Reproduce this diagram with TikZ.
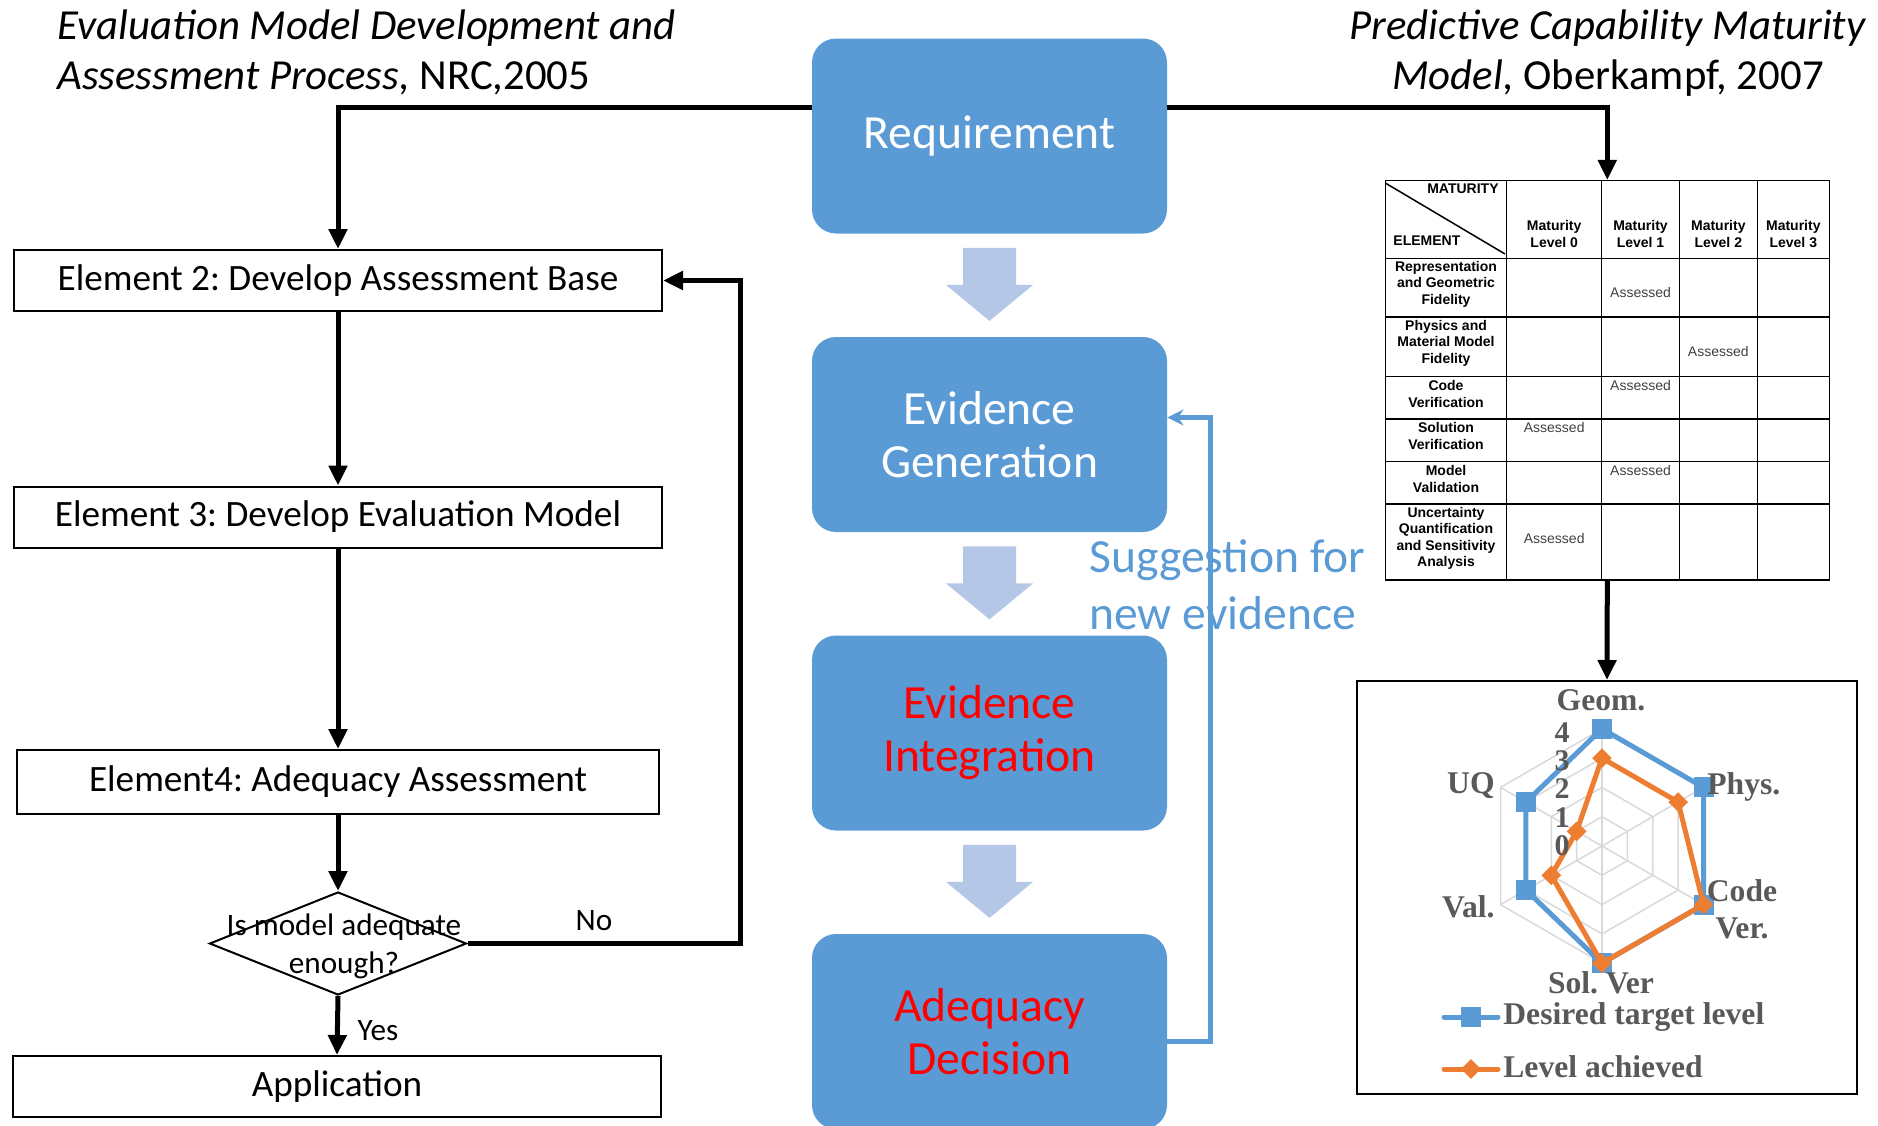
\documentclass[tikz,border=0pt]{standalone}
\usepackage{fontspec}
\setmainfont{Carlito}
\newfontfamily\arialf{Liberation Sans}
\newfontfamily\timesf{Liberation Serif}
\usetikzlibrary{arrows.meta,shapes.geometric,calc}
\frenchspacing

\definecolor{boxblue}{HTML}{5B9BD5}
\definecolor{arrowblue}{HTML}{B4C7E7}
\definecolor{chartorange}{HTML}{ED7D31}
\definecolor{chartgray}{HTML}{595959}
\definecolor{gridgray}{HTML}{D9D9D9}
\definecolor{txtred}{HTML}{FF0000}

\begin{document}
\begin{tikzpicture}[x=0.5pt,y=-0.5pt,
  stage/.style={fill=boxblue, rounded corners=12pt, minimum width=177.5pt,
    minimum height=97.5pt, align=center, inner sep=0pt,
    font=\fontsize{23.8}{26.5}\selectfont},
  elem/.style={draw, line width=1pt, minimum width=324pt, minimum height=30.5pt,
    inner sep=0pt, font=\fontsize{18.6}{21}\selectfont},
  flow/.style={line width=2.5pt, -{Triangle[length=10pt,width=9pt]}},
  fb/.style={draw=boxblue, line width=2.4pt, -{Stealth[length=8pt,width=8pt]}},
  lbl/.style={font=\fontsize{15.6}{19}\selectfont, inner sep=0pt},
  tb/.style={font=\arialf\bfseries\fontsize{7}{8.3}\selectfont, align=center, inner sep=0pt},
  ta/.style={font=\arialf\fontsize{7}{8.3}\selectfont, text=black!75, inner sep=0pt},
  chartlbl/.style={font=\timesf\bfseries\fontsize{15.8}{18.5}\selectfont, text=chartgray,
    inner sep=0pt, align=center},
  sqmark/.style={fill=boxblue, minimum size=10pt, inner sep=0pt},
  dmmark/.style={diamond, fill=chartorange, minimum size=10pt, inner sep=0pt},
  down block/.pic={\fill[arrowblue] (-26.5,0) -- (26.5,0) -- (26.5,37) -- (43.5,37)
    -- (0,73) -- (-43.5,37) -- (-26.5,37) -- cycle;}
]
\clip (0,0) rectangle (1878,1125);

% ---------- titles ----------
\node[anchor=west, align=left, inner sep=0pt, font=\fontsize{21.4}{25}\selectfont] (ttlL) at (57,52)
  {\textit{Evaluation Model Development and}\\\textit{Assessment Process,} NRC,2005};
\node[align=center, inner sep=0pt, font=\fontsize{21.4}{25}\selectfont] (ttlR) at (1608,53)
  {\textit{Predictive Capability Maturity}\\\textit{Model,} Oberkampf, 2007};

% ---------- central process ----------
\node[stage, text=white] (req) at (989.5,136) {Requirement};
\node[stage, text=white] (eg) at (989.5,434.5) {Evidence\\Generation};
\node[stage, text=txtred] (ei) at (989.5,733) {Evidence\\Integration};
\node[stage, text=txtred] (ad) at (989.5,1031.5) {Adequacy\\Decision};
\pic at ($(req.south)+(0,14)$) {down block};
\pic at ($(eg.south)+(0,14)$) {down block};
\pic at ($(ei.south)+(0,14)$) {down block};

\node[anchor=west, align=left, inner sep=0pt, text=boxblue,
  font=\fontsize{23.8}{28.5}\selectfont] (sugg) at (1089,585) {Suggestion for\\new evidence};
\draw[fb] ($(ad.east)+(0,10)$) -- ++(43,0) |- ($(eg.east)+(0,-17)$);

% ---------- left flowchart ----------
\node[elem] (e2) at (338,280.5) {Element 2: Develop Assessment Base};
\node[elem] (e3) at (338,517) {Element 3: Develop Evaluation Model};
\node[elem, minimum width=321pt, minimum height=32pt] (e4) at (338,782) {Element4: Adequacy Assessment};
\node[diamond, draw, line width=1pt, minimum width=128.5pt, minimum height=51.5pt,
  inner sep=0pt] (dec) at (338,943.5) {};
\node[lbl, align=center] (dectxt) at (344,946) {Is model adequate\\enough?};
\node[elem] (app) at (337,1086.5) {Application};

\draw[flow] ($(req.west)+(0,-29)$) -| (e2.north);
\draw[flow] (e2.south) -- (e3.north);
\draw[flow] (e3.south) -- (e4.north);
\draw[flow] (e4.south) -- (dec.north);
\draw[flow] (dec.south) -- (app.north);
\draw[flow] (dec.east) -- ++(272.5,0) |- (e2.east);
\node[lbl] (yes) at (378,1031) {Yes};
\node[lbl] (no) at (594,921) {No};

% ---------- maturity table ----------
\node[draw, line width=0.75pt, minimum width=222pt, minimum height=199.65pt, inner sep=0pt]
  (tbl) at (1607.3,380.35) {};
\begin{scope}[line width=0.75pt]
  \foreach \cx in {1506.7,1601.7,1679.3,1757.3} \draw (\cx,180.7) -- (\cx,580);
  \foreach \ry in {258.3,317,376.7,419,461.7,504} \draw (1385.3,\ry) -- (1829.3,\ry);
  \draw (1385.3,183) -- (1505,254);
\end{scope}
\node[tb, anchor=east] (hmat) at (1499,189) {MATURITY};
\node[tb, anchor=west] (hel) at (1393,241) {ELEMENT};
\node[tb] (h0) at (1554.2,234) {Maturity\\Level 0};
\node[tb] (h1) at (1640.5,234) {Maturity\\Level 1};
\node[tb] (h2) at (1718.3,234) {Maturity\\Level 2};
\node[tb] (h3) at (1793.3,234) {Maturity\\Level 3};
\node[tb] (rw1) at (1446,284) {Representation\\and Geometric\\Fidelity};
\node[tb] (rw2) at (1446,343.3) {Physics and\\Material Model\\Fidelity};
\node[tb] (rw3) at (1446,393.7) {Code\\Verification};
\node[tb] (rw4) at (1446,436) {Solution\\Verification};
\node[tb] (rw5) at (1446,478.7) {Model\\Validation};
\node[tb] (rw6) at (1446,538.3) {Uncertainty\\Quantification\\and Sensitivity\\Analysis};
\node[ta] (as1) at (1640.5,292) {Assessed};
\node[ta] (as2) at (1718.3,351.7) {Assessed};
\node[ta] (as3) at (1640.5,385.7) {Assessed};
\node[ta] (as4) at (1554.2,427.7) {Assessed};
\node[ta] (as5) at (1640.5,470) {Assessed};
\node[ta] (as6) at (1554.2,538.3) {Assessed};

% ---------- radar chart ----------
\node[draw, line width=1pt, minimum width=250pt, minimum height=206.5pt, inner sep=0pt]
  (chart) at (1607,887.5) {};
\draw[flow] ($(req.east)+(0,-29)$) -| (tbl.north);
\draw[flow] (tbl.south) -- (chart.north);

\begin{scope}[shift={(1602,846)}]
  \foreach \r in {29.3,58.6,87.9,117.2}
    \draw[gridgray, line width=0.75pt] (-90:\r) -- (-30:\r) -- (30:\r) -- (90:\r)
      -- (150:\r) -- (-150:\r) -- cycle;
  \foreach \a in {-90,-30,30,90,150,-150}
    \draw[gridgray, line width=0.75pt] (0,0) -- (\a:117.2);
  % desired target level
  \draw[boxblue, line width=2.5pt, line join=round] (-90:117.2) -- (-30:117.2) -- (30:117.2)
    -- (90:117.2) -- (150:87.9) -- (-150:87.9) -- cycle;
  \foreach \a/\r [count=\i] in {-90/117.2,-30/117.2,30/117.2,90/117.2,150/87.9,-150/87.9}
    \node[sqmark] (bq\i) at (\a:\r) {};
  % level achieved
  \draw[chartorange, line width=2.5pt, line join=round] (-90:87.9) -- (-30:87.9) -- (30:117.2)
    -- (90:117.2) -- (150:58.6) -- (-150:29.3) -- cycle;
  \foreach \a/\r [count=\i] in {-90/87.9,-30/87.9,30/117.2,90/117.2,150/58.6,-150/29.3}
    \node[dmmark] (od\i) at (\a:\r) {};
\end{scope}

\foreach \v/\yy in {4/733,3/761,2/789,1/818,0/846}
  \node[chartlbl, anchor=east, font=\timesf\bfseries\fontsize{15}{15}\selectfont] (tick\v) at (1570,\yy) {\v};
\node[chartlbl] (lgeom) at (1601,700) {Geom.};
\node[chartlbl, anchor=west] (lphys) at (1707,787) {Phys.};
\node[chartlbl] (lcode) at (1742,909) {Code\\Ver.};
\node[chartlbl] (lsol) at (1601,983) {Sol. Ver};
\node[chartlbl, anchor=east] (lval) at (1495,907) {Val.};
\node[chartlbl, anchor=east] (luq) at (1495,786) {UQ};

% legend
\coordinate (lgA) at (1444,1017);
\coordinate (lgB) at (1444,1069);
\draw[boxblue, line width=2.5pt, line cap=round] (lgA) -- ++(54,0);
\node[sqmark] (lgsq) at ($(lgA)+(27,0)$) {};
\node[chartlbl, anchor=west] (lgt1) at ($(lgA)+(59,0)$) {Desired target level};
\draw[chartorange, line width=2.5pt, line cap=round] (lgB) -- ++(54,0);
\node[dmmark] (lgdm) at ($(lgB)+(27,0)$) {};
\node[chartlbl, anchor=west] (lgt2) at ($(lgB)+(59,-2)$) {Level achieved};
\end{tikzpicture}
\end{document}
